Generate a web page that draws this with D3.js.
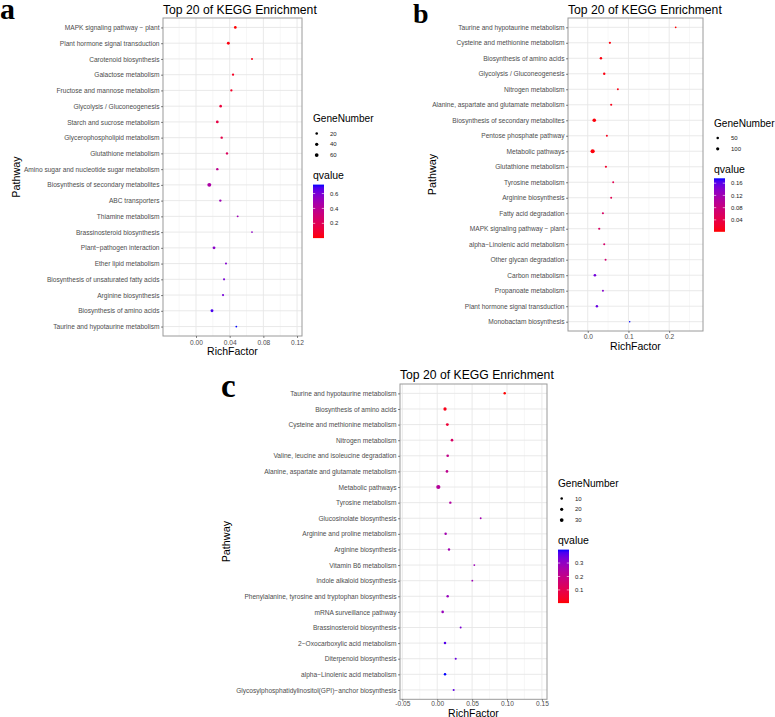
<!DOCTYPE html>
<html><head><meta charset="utf-8">
<script src="https://cdn.jsdelivr.net/npm/d3@7"></script>
<style>
body{margin:0;background:#fff}
svg{display:block}
text{font-family:"Liberation Sans",Arial,Helvetica,sans-serif}
</style>
</head><body>
<svg id="chart" width="775" height="717"></svg>
<script>
// ---------- Panel a ----------
const aPathways = ["MAPK signaling pathway − plant","Plant hormone signal transduction","Carotenoid biosynthesis","Galactose metabolism","Fructose and mannose metabolism","Glycolysis / Gluconeogenesis","Starch and sucrose metabolism","Glycerophospholipid metabolism","Glutathione metabolism","Amino sugar and nucleotide sugar metabolism","Biosynthesis of secondary metabolites","ABC transporters","Thiamine metabolism","Brassinosteroid biosynthesis","Plant−pathogen interaction","Ether lipid metabolism","Biosynthesis of unsaturated fatty acids","Arginine biosynthesis","Biosynthesis of amino acids","Taurine and hypotaurine metabolism"];
const aRichFactor = [0.0467,0.0384,0.0665,0.0440,0.0420,0.0293,0.0253,0.0305,0.0368,0.0253,0.0158,0.0289,0.0495,0.0665,0.0214,0.0356,0.0333,0.0321,0.0190,0.0479];
const aGeneNumber = [22,28,8,13,13,20,24,15,14,15,68,14,7,4,26,9,10,10,28,5];
const aQvalue = [0.002,0.02,0.03,0.06,0.07,0.12,0.15,0.16,0.22,0.38,0.45,0.50,0.50,0.55,0.56,0.58,0.60,0.61,0.68,0.72];
const aXTicks = [0, 0.04, 0.08, 0.12];
const aXTickLabels = ["0.00","0.04","0.08","0.12"];
const aXMinor = [-0.02, 0.02, 0.06, 0.10];
const aSizeBreaks = [20, 40, 60];
const aQBreaks = [0.2, 0.4, 0.6];

// ---------- Panel b ----------
const bPathways = ["Taurine and hypotaurine metabolism","Cysteine and methionine metabolism","Biosynthesis of amino acids","Glycolysis / Gluconeogenesis","Nitrogen metabolism","Alanine, aspartate and glutamate metabolism","Biosynthesis of secondary metabolites","Pentose phosphate pathway","Metabolic pathways","Glutathione metabolism","Tyrosine metabolism","Arginine biosynthesis","Fatty acid degradation","MAPK signaling pathway − plant","alpha−Linolenic acid metabolism","Other glycan degradation","Carbon metabolism","Propanoate metabolism","Plant hormone signal transduction","Monobactam biosynthesis"];
const bRichFactor = [0.216,0.0544,0.0324,0.0405,0.074,0.0576,0.016,0.047,0.012,0.0446,0.0625,0.0576,0.0373,0.0282,0.0405,0.0438,0.0176,0.0373,0.0225,0.103];
const bGeneNumber = [10,30,45,40,18,25,140,22,210,30,18,18,25,30,22,20,55,20,45,6];
const bQvalue = [0.001,0.005,0.005,0.006,0.008,0.01,0.004,0.012,0.004,0.02,0.045,0.045,0.06,0.06,0.065,0.07,0.15,0.14,0.155,0.176];
const bXTicks = [0, 0.1, 0.2];
const bXTickLabels = ["0.0","0.1","0.2"];
const bXMinor = [0.05, 0.15, 0.25];
const bSizeBreaks = [50, 100];
const bQBreaks = [0.04, 0.08, 0.12, 0.16];

// ---------- Panel c ----------
const cPathways = ["Taurine and hypotaurine metabolism","Biosynthesis of amino acids","Cysteine and methionine metabolism","Nitrogen metabolism","Valine, leucine and isoleucine degradation","Alanine, aspartate and glutamate metabolism","Metabolic pathways","Tyrosine metabolism","Glucosinolate biosynthesis","Arginine and proline metabolism","Arginine biosynthesis","Vitamin B6 metabolism","Indole alkaloid biosynthesis","Phenylalanine, tyrosine and tryptophan biosynthesis","mRNA surveillance pathway","Brassinosteroid biosynthesis","2−Oxocarboxylic acid metabolism","Diterpenoid biosynthesis","alpha−Linolenic acid metabolism","Glycosylphosphatidylinositol(GPI)−anchor biosynthesis"];
const cRichFactor = [0.0967,0.0112,0.0145,0.0212,0.015,0.014,0.0016,0.0188,0.0623,0.0121,0.0169,0.0532,0.0503,0.015,0.0078,0.0336,0.0112,0.0265,0.0112,0.0236];
const cGeneNumber = [9,22,15,11,11,11,42,8,3,9,8,3,3,9,10,4,9,5,9,5];
const cQvalue = [0.002,0.02,0.06,0.14,0.20,0.21,0.23,0.24,0.27,0.27,0.27,0.28,0.28,0.29,0.29,0.33,0.37,0.35,0.40,0.36];
const cXTicks = [-0.05, 0, 0.05, 0.10, 0.15];
const cXTickLabels = ["-0.05","0.00","0.05","0.10","0.15"];
const cXMinor = [-0.025, 0.025, 0.075, 0.125];
const cSizeBreaks = [10, 20, 30];
const cQBreaks = [0.1, 0.2, 0.3];

const chartTitle = "Top 20 of KEGG Enrichment";

const svg = d3.select("#chart");
svg.append("rect").attr("width",775).attr("height",717).attr("fill","#fff");
const defs = svg.append("defs");

function drawPanel(cfg, id){
  const g = svg.append("g");
  const data = cfg.pathways.map((p,i)=>({p, rf:cfg.rich[i], n:cfg.genes[i], q:cfg.q[i]}));
  const x = d3.scaleLinear().domain(cfg.xDomain).range([cfg.left, cfg.right]);
  const y = d3.scalePoint().domain(cfg.pathways).range([cfg.top, cfg.bottom]).padding(0.6);
  const qExt = d3.extent(cfg.q);
  const col = d3.scaleLinear().domain(qExt).range(["#ff0000","#0000ff"]).interpolate(d3.interpolateLab);
  const r = d3.scaleSqrt().domain([0, cfg.gMax]).range([0.5, cfg.rMax]);

  g.append("rect").attr("x",cfg.left).attr("y",cfg.top)
    .attr("width",cfg.right-cfg.left).attr("height",cfg.bottom-cfg.top).attr("fill","#fff");
  g.selectAll(".minor").data(cfg.minor.filter(v=>v>cfg.xDomain[0]&&v<cfg.xDomain[1])).join("line")
    .attr("x1",d=>x(d)).attr("x2",d=>x(d)).attr("y1",cfg.top).attr("y2",cfg.bottom)
    .attr("stroke","#f2f2f2").attr("stroke-width",0.6);
  g.selectAll(".majorx").data(cfg.ticks).join("line")
    .attr("x1",d=>x(d)).attr("x2",d=>x(d)).attr("y1",cfg.top).attr("y2",cfg.bottom)
    .attr("stroke","#e6e6e6").attr("stroke-width",0.9);
  g.selectAll(".majory").data(cfg.pathways).join("line")
    .attr("x1",cfg.left).attr("x2",cfg.right).attr("y1",d=>y(d)).attr("y2",d=>y(d))
    .attr("stroke","#e6e6e6").attr("stroke-width",0.9);
  g.selectAll(".pt").data(data).join("circle")
    .attr("cx",d=>x(d.rf)).attr("cy",d=>y(d.p)).attr("r",d=>r(d.n))
    .attr("fill",d=>col(d.q));
  g.append("rect").attr("x",cfg.left).attr("y",cfg.top)
    .attr("width",cfg.right-cfg.left).attr("height",cfg.bottom-cfg.top)
    .attr("fill","none").attr("stroke","#9a9a9a").attr("stroke-width",1);

  const ay = g.append("g").attr("transform",`translate(${cfg.left},0)`)
    .call(d3.axisLeft(y).tickSize(2).tickPadding(1.5));
  const ax = g.append("g").attr("transform",`translate(0,${cfg.bottom})`)
    .call(d3.axisBottom(x).tickValues(cfg.ticks).tickSize(2).tickPadding(cfg.xTickPad)
      .tickFormat((d,i)=>cfg.tickLabels[i]));
  [ay,ax].forEach(a=>{
    a.select(".domain").remove();
    a.selectAll(".tick line").attr("stroke","#333").attr("stroke-width",0.6);
    a.selectAll(".tick text").attr("fill","#4d4d4d").style("font-size","6.6px")
      .style("font-family",'"Liberation Sans",Arial,sans-serif');
  });

  g.append("text").attr("x",cfg.left).attr("y",cfg.titleY).text(chartTitle)
    .style("font-size","12.2px").attr("fill","#000");
  g.append("text").attr("x",(cfg.left+cfg.right)/2).attr("y",cfg.xTitleY)
    .attr("text-anchor","middle").text("RichFactor").style("font-size","10.5px");
  g.append("text").attr("transform",`translate(${cfg.yTitleX},${(cfg.top+cfg.bottom)/2}) rotate(-90)`)
    .attr("text-anchor","middle").attr("dy","0.35em").text("Pathway").style("font-size","10.8px");
  g.append("text").attr("x",cfg.letterX).attr("y",cfg.letterY).text(cfg.letter)
    .style("font-family",'"Liberation Serif","Times New Roman",serif')
    .style("font-weight","bold").style("font-size",cfg.letterSize+"px");

  const lx = cfg.right + 11;
  g.append("text").attr("x",lx).attr("y",cfg.legTop).text("GeneNumber").style("font-size","10.1px");
  cfg.sizeBreaks.forEach((s,i)=>{
    const yy = cfg.legTop + 11.5 + i*10.8;
    g.append("circle").attr("cx",lx+3.7).attr("cy",yy).attr("r",r(s)).attr("fill","#000");
    g.append("text").attr("x",lx+17).attr("y",yy).attr("dy","0.35em").text(s)
      .style("font-size","6px").attr("fill","#222");
  });
  const qTitleY = cfg.legTop + 11.5 + (cfg.sizeBreaks.length-1)*10.8 + 24;
  g.append("text").attr("x",lx).attr("y",qTitleY).text("qvalue").style("font-size","10.5px");
  const barTop = qTitleY + 5.5, barH = 53.5, barW = 11;
  const grad = defs.append("linearGradient").attr("id","grad"+id)
    .attr("x1",0).attr("y1",1).attr("x2",0).attr("y2",0);
  d3.range(0,1.0001,0.05).forEach(t=>{
    grad.append("stop").attr("offset",t).attr("stop-color",col(qExt[0]+t*(qExt[1]-qExt[0])));
  });
  g.append("rect").attr("x",lx).attr("y",barTop).attr("width",barW).attr("height",barH)
    .attr("fill",`url(#grad${id})`);
  const qs = d3.scaleLinear().domain(qExt).range([barTop+barH, barTop]);
  cfg.qBreaks.forEach(b=>{
    const yy = qs(b);
    g.append("line").attr("x1",lx).attr("x2",lx+2.2).attr("y1",yy).attr("y2",yy).attr("stroke","#fff").attr("stroke-width",0.6);
    g.append("line").attr("x1",lx+barW-2.2).attr("x2",lx+barW).attr("y1",yy).attr("y2",yy).attr("stroke","#fff").attr("stroke-width",0.6);
    g.append("text").attr("x",lx+17).attr("y",yy).attr("dy","0.35em").text(b)
      .style("font-size","6px").attr("fill","#222");
  });
}

drawPanel({pathways:aPathways, rich:aRichFactor, genes:aGeneNumber, q:aQvalue,
  ticks:aXTicks, tickLabels:aXTickLabels, minor:aXMinor, sizeBreaks:aSizeBreaks, qBreaks:aQBreaks,
  left:163, right:302, top:18, bottom:336, xDomain:[-0.0392,0.1259], gMax:70, rMax:2.0, xTickPad:2,
  titleY:14, xTitleY:355, yTitleX:16, letter:"a", letterX:0, letterY:19, letterSize:30,
  legTop:122}, "a");

drawPanel({pathways:bPathways, rich:bRichFactor, genes:bGeneNumber, q:bQvalue,
  ticks:bXTicks, tickLabels:bXTickLabels, minor:bXMinor, sizeBreaks:bSizeBreaks, qBreaks:bQBreaks,
  left:568, right:703, top:18, bottom:331, xDomain:[-0.0485,0.2831], gMax:210, rMax:2.1, xTickPad:1.5,
  titleY:14, xTitleY:349.5, yTitleX:432, letter:"b", letterX:413, letterY:23, letterSize:28,
  legTop:126.5}, "b");

drawPanel({pathways:cPathways, rich:cRichFactor, genes:cGeneNumber, q:cQvalue,
  ticks:cXTicks, tickLabels:cXTickLabels, minor:cXMinor, sizeBreaks:cSizeBreaks, qBreaks:cQBreaks,
  left:400, right:547, top:384, bottom:699.3, xDomain:[-0.0533,0.1573], gMax:42, rMax:2.1, xTickPad:0,
  titleY:379, xTitleY:716.8, yTitleX:226.7, letter:"c", letterX:221, letterY:396.5, letterSize:33,
  legTop:487}, "c");
</script>
</body></html>
